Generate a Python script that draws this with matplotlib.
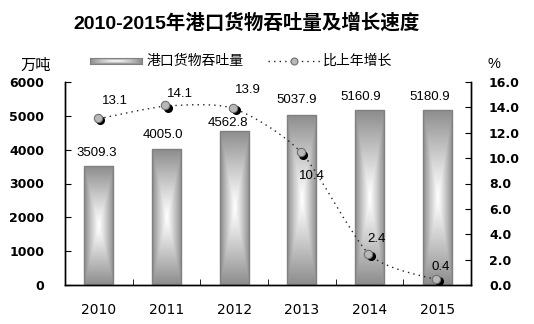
import numpy as np
import matplotlib
matplotlib.use('Agg')
import matplotlib.pyplot as plt
from matplotlib.path import Path
from matplotlib.patches import PathPatch, Rectangle
from matplotlib.transforms import offset_copy

plt.rcParams['font.family'] = ['Liberation Sans', 'Noto Sans CJK SC']

years = ['2010', '2011', '2012', '2013', '2014', '2015']
throughput = [3509.3, 4005.0, 4562.8, 5037.9, 5160.9, 5180.9]
growth = [13.1, 14.1, 13.9, 10.4, 2.4, 0.4]

# label offsets in pixels (style only)
bar_lbl_off = [(-2, 13), (-4, 14), (-6, 8), (-5, 15), (-9, 13), (-7, 13)]
gr_lbl_off = [(16, 18), (13, 12), (14, 19), (10, -23), (7, 16), (4, 13)]

TICK_FONT = ['DejaVu Sans']


def box_gradient(n=200, m=60):
    v = np.linspace(-1, 1, n)[:, None]
    u = np.linspace(-1, 1, m)[None, :]
    d = np.maximum(np.abs(u), np.abs(v))
    return 1 - 0.45 * d ** 1.1


def smooth_path(xs, ys, k=8):
    pts = np.column_stack([xs, ys])
    n = len(pts)
    verts = [pts[0]]
    codes = [Path.MOVETO]
    for i in range(n - 1):
        p0 = pts[i - 1] if i > 0 else pts[i]
        p1, p2 = pts[i], pts[i + 1]
        p3 = pts[i + 2] if i + 2 < n else pts[i + 1]
        c1 = p1 + (p2 - p0) / k
        c2 = p2 - (p3 - p1) / k
        verts += [c1, c2, p2]
        codes += [Path.CURVE4] * 3
    return Path(verts, codes)


fig = plt.figure(figsize=(5.34, 3.24), dpi=100)
ax = fig.add_axes([65 / 534, 1 - 285 / 324, 406 / 534, 203 / 324])
ax2 = ax.twinx()

x = np.arange(len(years))
w = 0.43
grad = box_gradient()
for xi, h in zip(x, throughput):
    rect = Rectangle((xi - w / 2, 0), w, h, facecolor='none', edgecolor='#808080', lw=1, zorder=3)
    ax.add_patch(rect)
    im = ax.imshow(grad, cmap='gray', vmin=0, vmax=1, extent=(xi - w / 2, xi + w / 2, 0, h),
                   aspect='auto', zorder=2, interpolation='bilinear')
    im.set_clip_path(rect)

for xi, h, (dx, dy) in zip(x, throughput, bar_lbl_off):
    ax.annotate(f'{h:.1f}', (xi, h), xytext=(dx, dy), textcoords='offset pixels',
                ha='center', va='center', fontsize=9.5)

ax.set_xlim(-0.5, len(years) - 0.5)
ax.set_ylim(0, 6000)
ax.set_yticks(range(0, 6001, 1000))
ax.set_xticks(x)
ax.set_xticklabels(years, family=TICK_FONT, fontsize=10)
ax.set_xticks(np.arange(-0.5, len(years), 1), minor=True)
ax.tick_params(axis='x', which='major', length=0, pad=13)
ax.tick_params(axis='x', which='minor', direction='in', length=4)
ax.tick_params(axis='y', direction='in', length=4, pad=15)
ax.set_yticklabels([str(v) for v in range(0, 6001, 1000)], family=TICK_FONT,
                   fontsize=9, fontweight='bold')

ax2.set_ylim(0, 16)
ax2.set_yticks(np.arange(0, 16.1, 2))
ax2.set_yticklabels([f'{v:.1f}' for v in np.arange(0, 16.1, 2)], family=TICK_FONT,
                    fontsize=9, fontweight='bold')
ax2.tick_params(axis='y', direction='in', length=4, pad=13)

for a in (ax, ax2):
    a.spines['top'].set_visible(False)
    for s in ('left', 'right', 'bottom'):
        a.spines[s].set_linewidth(1)

ax2.add_patch(PathPatch(smooth_path(x, growth), facecolor='none', edgecolor='#222222',
                        lw=1, linestyle=(0, (1, 3)), zorder=4))
shadow = offset_copy(ax2.transData, fig=fig, x=1.5, y=-1.5, units='dots')
front = offset_copy(ax2.transData, fig=fig, x=-1, y=1, units='dots')
ax2.plot(x, growth, 'o', ms=5.5, color='black', transform=shadow, zorder=5)
ax2.plot(x, growth, 'o', ms=6, mfc='#b8b8b8', mec='#707070', mew=0.8, transform=front, zorder=6)

for xi, g, (dx, dy) in zip(x, growth, gr_lbl_off):
    ax2.annotate(f'{g:.1f}', (xi, g), xytext=(dx, dy), textcoords='offset pixels',
                 ha='center', va='center', fontsize=9.5)

fig.text(247 / 534, 1 - 23 / 324, '2010-2015年港口货物吞吐量及增长速度', ha='center', va='center',
         fontsize=14, fontweight='bold')
fig.text(36 / 534, 1 - 66 / 324, '万吨', ha='center', va='center', fontsize=11)
fig.text(494 / 534, 1 - 64 / 324, '%', ha='center', va='center', fontsize=10.5)

# legend
lax = fig.add_axes([90 / 534, 1 - 64 / 324, 52 / 534, 6 / 324])
lax.imshow(box_gradient(20, 80), cmap='gray', vmin=0, vmax=1, aspect='auto')
for s in lax.spines.values():
    s.set_color('#808080')
    s.set_linewidth(0.8)
lax.set_xticks([])
lax.set_yticks([])
fig.text(147 / 534, 1 - 61 / 324, '港口货物吞吐量', ha='left', va='center', fontsize=10)
fig.add_artist(plt.Line2D([268 / 534, 320 / 534], [1 - 61 / 324] * 2, color='#222222', lw=1,
                          linestyle=(0, (1, 3))))
fig.add_artist(plt.Line2D([294 / 534], [1 - 61 / 324], marker='o', ms=5, mfc='#b8b8b8',
                          mec='#707070', mew=0.8))
fig.text(323 / 534, 1 - 61 / 324, '比上年增长', ha='left', va='center', fontsize=10)

fig.savefig('out.png', dpi=100)
